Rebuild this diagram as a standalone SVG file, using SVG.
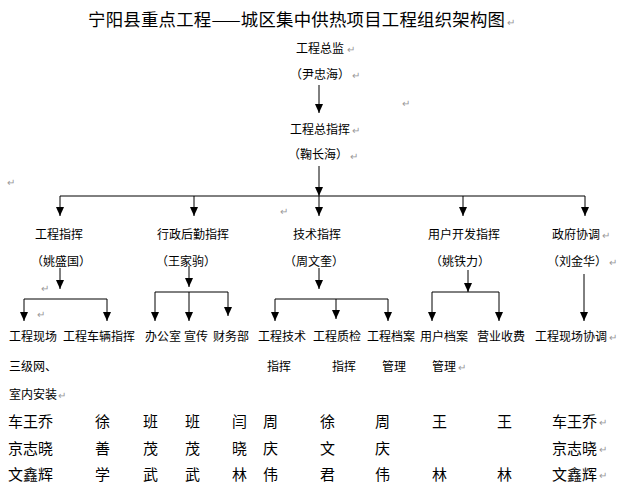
<svg xmlns="http://www.w3.org/2000/svg" width="626" height="495" viewBox="0 0 626 495">
<style>
text{font-family:"Noto Sans CJK SC","Noto Sans",sans-serif;fill:#000;dominant-baseline:central}
.t{font-size:17.4px}
.s{font-size:12px}
.n{font-size:15px}
.m{font-size:10px;fill:#999}
.c line{stroke:#000;stroke-width:1}
.c .a{marker-end:url(#ah)}
</style>
<defs>
<marker id="ah" markerUnits="userSpaceOnUse" markerWidth="9" markerHeight="10" refX="9" refY="4" orient="auto">
<path d="M0,0 L9,4 L0,8 z" fill="#000"/>
</marker>
</defs>
<rect width="626" height="495" fill="#fff"/>

<g id="title"><text class="t" x="88" y="18" textLength="417" lengthAdjust="spacing">宁阳县重点工程——城区集中供热项目工程组织架构图</text></g>

<g id="n-zongjian"><text class="s" x="320" y="47" text-anchor="middle">工程总监</text><text class="s" x="320" y="73" text-anchor="middle">（尹忠海）</text></g>
<g id="n-zongzhihui"><text class="s" x="320" y="128" text-anchor="middle">工程总指挥</text><text class="s" x="318" y="153" text-anchor="middle">（鞠长海）</text></g>

<g id="n-gczh"><text class="s" x="59" y="233" text-anchor="middle">工程指挥</text><text class="s" x="61" y="260" text-anchor="middle">（姚盛国）</text></g>
<g id="n-xzhq"><text class="s" x="193" y="233" text-anchor="middle">行政后勤指挥</text><text class="s" x="186" y="260" text-anchor="middle">（王家驹）</text></g>
<g id="n-jszh"><text class="s" x="317" y="233" text-anchor="middle">技术指挥</text><text class="s" x="314" y="260" text-anchor="middle">（周文奎）</text></g>
<g id="n-yhkf"><text class="s" x="464" y="233" text-anchor="middle">用户开发指挥</text><text class="s" x="460" y="260" text-anchor="middle">（姚铁力）</text></g>
<g id="n-zfxt"><text class="s" x="576" y="233" text-anchor="middle">政府协调</text><text class="s" x="577" y="260" text-anchor="middle">（刘金华）</text></g>

<g id="n-gcxc"><text class="s" x="9" y="335">工程现场</text><text class="s" x="9" y="365">三级网、</text><text class="s" x="9" y="393">室内安装</text></g>
<g id="n-gccl"><text class="s" x="63" y="335">工程车辆指挥</text></g>
<g id="n-bgs"><text class="s" x="145" y="335">办公室</text></g>
<g id="n-xc"><text class="s" x="184" y="335">宣传</text></g>
<g id="n-cwb"><text class="s" x="213" y="335">财务部</text></g>
<g id="n-gcjs"><text class="s" x="258" y="335">工程技术</text><text class="s" x="267" y="365">指挥</text></g>
<g id="n-gczj"><text class="s" x="313" y="335">工程质检</text><text class="s" x="332" y="365">指挥</text></g>
<g id="n-gcda"><text class="s" x="367" y="335">工程档案</text><text class="s" x="382" y="365">管理</text></g>
<g id="n-yhda"><text class="s" x="420" y="335">用户档案</text><text class="s" x="432" y="365">管理</text></g>
<g id="n-yysf"><text class="s" x="477" y="335">营业收费</text></g>
<g id="n-gcxcxt"><text class="s" x="535" y="335">工程现场协调</text></g>

<g id="names">
<text class="n" x="8" y="420">车王乔</text><text class="n" x="8" y="447">京志晓</text><text class="n" x="8" y="473">文鑫辉</text>
<text class="n" x="95" y="420">徐</text><text class="n" x="95" y="447">善</text><text class="n" x="95" y="473">学</text>
<text class="n" x="143" y="420">班</text><text class="n" x="143" y="447">茂</text><text class="n" x="143" y="473">武</text>
<text class="n" x="185" y="420">班</text><text class="n" x="185" y="447">茂</text><text class="n" x="185" y="473">武</text>
<text class="n" x="232" y="420">闫</text><text class="n" x="232" y="447">晓</text><text class="n" x="232" y="473">林</text>
<text class="n" x="263" y="420">周</text><text class="n" x="263" y="447">庆</text><text class="n" x="263" y="473">伟</text>
<text class="n" x="320" y="420">徐</text><text class="n" x="320" y="447">文</text><text class="n" x="320" y="473">君</text>
<text class="n" x="375" y="420">周</text><text class="n" x="375" y="447">庆</text><text class="n" x="375" y="473">伟</text>
<text class="n" x="432" y="420">王</text><text class="n" x="432" y="473">林</text>
<text class="n" x="497" y="420">王</text><text class="n" x="497" y="473">林</text>
<text class="n" x="552" y="420">车王乔</text><text class="n" x="552" y="447">京志晓</text><text class="n" x="552" y="473">文鑫辉</text>
</g>

<g id="marks">
<text class="m" x="507" y="21">↵</text>
<text class="m" x="347" y="48">↵</text>
<text class="m" x="352" y="74">↵</text>
<text class="m" x="402" y="102">↵</text>
<text class="m" x="352" y="129">↵</text>
<text class="m" x="350" y="155">↵</text>
<text class="m" x="7" y="181">↵</text>
<text class="m" x="280" y="210">↵</text>
<text class="m" x="602" y="234">↵</text>
<text class="m" x="609" y="261">↵</text>
<text class="m" x="41" y="287">↵</text>
<text class="m" x="37" y="313">↵</text>
<text class="m" x="609" y="336">↵</text>
<text class="m" x="458" y="366">↵</text>
<text class="m" x="58" y="394">↵</text>
<text class="m" x="599" y="421">↵</text>
<text class="m" x="599" y="448">↵</text>
<text class="m" x="599" y="474">↵</text>
</g>

<g id="connectors" class="c">
<line class="a" x1="319" y1="85" x2="319" y2="113"/>
<line class="a" x1="319" y1="166" x2="319" y2="196"/>
<line x1="60" y1="196" x2="585" y2="196"/>
<line class="a" x1="60" y1="196" x2="60" y2="216"/>
<line class="a" x1="194" y1="196" x2="194" y2="216"/>
<line class="a" x1="319" y1="196" x2="319" y2="216"/>
<line class="a" x1="463" y1="196" x2="463" y2="216"/>
<line class="a" x1="585" y1="196" x2="585" y2="216"/>

<line class="a" x1="60" y1="268" x2="60" y2="289"/>
<line x1="24" y1="299" x2="107" y2="299"/>
<line class="a" x1="24" y1="299" x2="24" y2="321"/>
<line class="a" x1="107" y1="299" x2="107" y2="321"/>

<line class="a" x1="189" y1="266" x2="189" y2="287"/>
<line x1="155" y1="292" x2="228" y2="292"/>
<line class="a" x1="155" y1="292" x2="155" y2="321"/>
<line class="a" x1="189" y1="292" x2="189" y2="321"/>
<line class="a" x1="228" y1="292" x2="228" y2="316"/>

<line class="a" x1="319" y1="268" x2="319" y2="289"/>
<line x1="275" y1="299" x2="388" y2="299"/>
<line class="a" x1="275" y1="299" x2="275" y2="321"/>
<line class="a" x1="336" y1="299" x2="336" y2="319"/>
<line class="a" x1="388" y1="299" x2="388" y2="321"/>

<line class="a" x1="468" y1="270" x2="468" y2="292"/>
<line x1="432" y1="292" x2="499" y2="292"/>
<line class="a" x1="432" y1="292" x2="432" y2="321"/>
<line class="a" x1="499" y1="292" x2="499" y2="321"/>

<line class="a" x1="584" y1="274" x2="584" y2="321"/>
</g>
</svg>
